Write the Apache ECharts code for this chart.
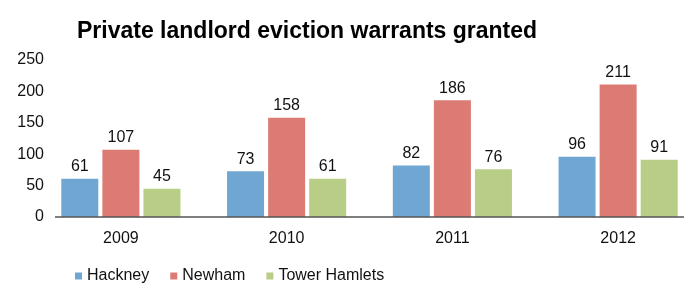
<!DOCTYPE html>
<html>
<head>
<meta charset="utf-8">
<script src="https://cdn.jsdelivr.net/npm/echarts@6/dist/echarts.min.js"></script>
<style>
html, body { margin: 0; padding: 0; background: #fff; }
#main { width: 684px; height: 286px; }
</style>
</head>
<body>
<div id="main"></div>
<script>
// 数据
var years = ['2009', '2010', '2011', '2012'];
var hackney = [61, 73, 82, 96];
var newham = [107, 158, 186, 211];
var towerHamlets = [45, 61, 76, 91];
var yTicks = [0, 50, 100, 150, 200, 250];

var myChart = echarts.init(document.getElementById('main'));

var font = 'Liberation Sans, Arial, Helvetica, sans-serif';

var makeSeries = function (name, data, color) {
	return {
		name: name,
		type: 'bar',
		data: data,
		barWidth: 37,
		barGap: '11%',
		itemStyle: { color: color },
		label: {
			show: true,
			position: 'top',
			distance: 4,
			color: '#111',
			fontSize: 16,
			fontFamily: font
		}
	}
}

var option = {
	animation: false,
	title: {
		text: 'Private landlord eviction warrants granted',
		left: 72,
		top: 15,
		textStyle: {
			fontSize: 23,
			fontWeight: 'bold',
			color: '#000',
			fontFamily: font
		}
	},
	legend: {
		left: 75,
		top: 268,
		padding: 0,
		itemWidth: 7,
		itemHeight: 7,
		itemGap: 21,
		icon: 'rect',
		textStyle: { fontSize: 16, color: '#111', fontFamily: font },
		data: ['Hackney', 'Newham', 'Tower Hamlets']
	},
	grid: {
		left: 38,
		width: 663,
		top: 60,
		bottom: 69,
		containLabel: false,
		outerBoundsMode: 'none'
	},
	xAxis: {
		type: 'category',
		data: years,
		axisTick: { show: false },
		axisLine: { show: false },
		axisLabel: { fontSize: 16, color: '#111', margin: 14, fontFamily: font }
	},
	yAxis: {
		type: 'value',
		min: yTicks[0],
		max: yTicks[yTicks.length - 1],
		interval: 50,
		splitLine: { show: false },
		axisLine: { show: false },
		axisTick: { show: false },
		axisLabel: { fontSize: 16, color: '#111', margin: -6, fontFamily: font }
	},
	series: [
		makeSeries('Hackney', hackney, '#6fa6d2'),
		makeSeries('Newham', newham, '#db7b74'),
		makeSeries('Tower Hamlets', towerHamlets, '#b8cd86')
	]
};

myChart.setOption(option);

// 底部轴线 (从 55px 开始, 不压住 y 轴的 0)
var y0 = myChart.convertToPixel({ yAxisIndex: 0 }, 0);
myChart.setOption({
	graphic: [{
		type: 'line',
		shape: { x1: 55, y1: y0, x2: 684, y2: y0 },
		style: { stroke: '#555', lineWidth: 1.5 },
		z: 10
	}]
});
</script>
</body>
</html>
